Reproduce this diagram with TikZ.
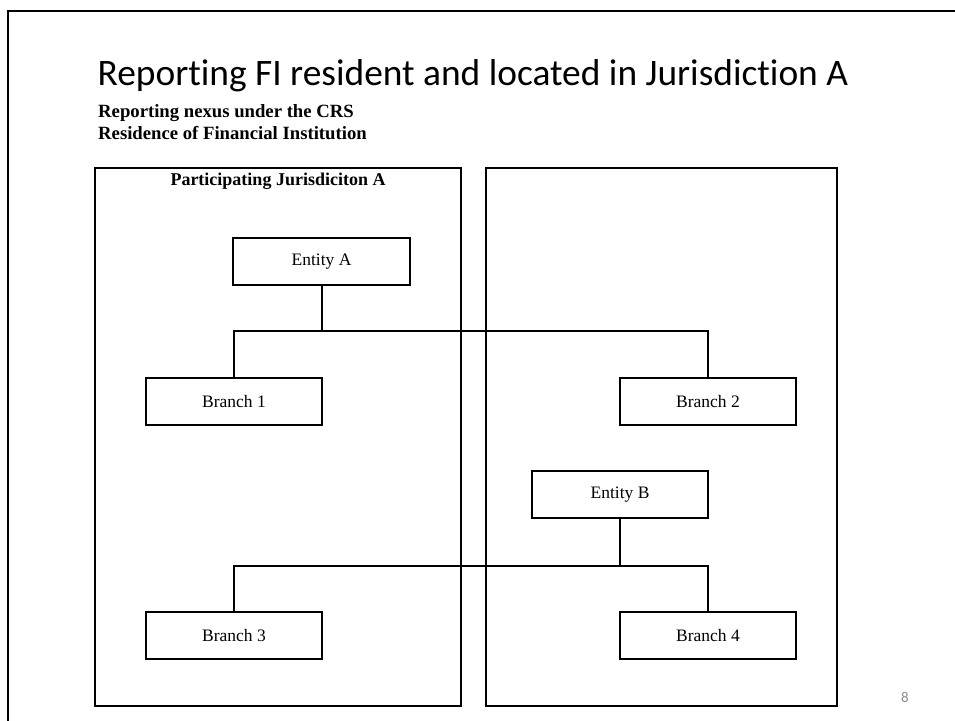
\documentclass[tikz,border=0pt]{standalone}
\usepackage{fontspec}
\setmainfont{Liberation Serif}
\newfontfamily\titlefont[Ligatures=NoCommon]{Carlito}
\begin{document}
\begin{tikzpicture}[x=1pt,y=-1pt,
  boxst/.style={draw=black, line width=1.6pt, rectangle, inner sep=0pt, outer sep=0pt,
    minimum width=176pt, minimum height=47pt, font=\fontsize{17.5}{20}\selectfont},
  jurbox/.style={draw=black, line width=1.6pt, rectangle, inner sep=0pt, outer sep=0pt},
  conn/.style={draw=black, line width=1.6pt},
  frame/.style={draw=black, line width=2pt}]
\useasboundingbox (0,0) rectangle (955,720);
% slide frame
\coordinate (fbl) at (8,722);
\coordinate (ftl) at (8,10.5);
\coordinate (ftr) at (957,10.5);
\draw[frame] (fbl) -- (ftl) -- (ftr);
% title and subtitles
\node[anchor=base west, inner sep=0pt, font=\titlefont\fontsize{37.4}{40}\selectfont] (title) at (97.5,85) {Reporting FI resident and located in Jurisdiction A};
\node[anchor=base west, inner sep=0pt, font=\bfseries\fontsize{18.7}{22}\selectfont] (sub1) at (98,117) {Reporting nexus under the CRS};
\node[anchor=base west, inner sep=0pt, font=\bfseries\fontsize{18.7}{22}\selectfont] (sub2) at (98,139) {Residence of Financial Institution};
% jurisdiction boxes
\node[jurbox, minimum width=366pt, minimum height=538pt] (JA) at (278,437) {};
\node[jurbox, minimum width=351pt, minimum height=538pt] (JB) at (661.5,437) {};
\node[anchor=base, inner sep=0pt, font=\bfseries\fontsize{18}{20}\selectfont] (JAlabel) at (278,185) {Participating Jurisdiciton A};
% entities and branches
\node[boxst, minimum width=177pt] (EA) at (321.5,261.5) {Entity A};
\node[boxst] (B1) at (234,401.5) {Branch 1};
\node[boxst] (B2) at (708,401.5) {Branch 2};
\node[boxst] (EB) at (620,494.5) {Entity B};
\node[boxst] (B3) at (234,635.5) {Branch 3};
\node[boxst] (B4) at (708,635.5) {Branch 4};
% connectors
\coordinate (j1) at (322,331);
\coordinate (j2) at (620,566);
\draw[conn] (EA.south -| j1) -- (j1);
\draw[conn] (B1.north) |- (j1) -| (B2.north);
\draw[conn] (EB.south) -- (j2);
\draw[conn] (B3.north) |- (j2) -| (B4.north);
% page number
\node[anchor=base, inner sep=0pt, text=black!45, font=\titlefont\fontsize{15}{16}\selectfont] (pnum) at (905,702) {8};
\end{tikzpicture}
\end{document}
